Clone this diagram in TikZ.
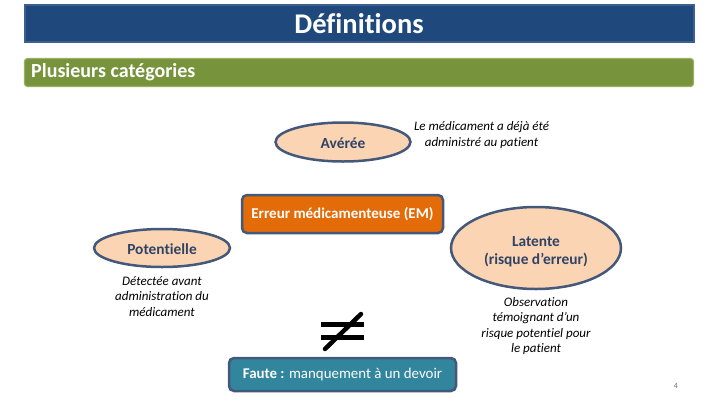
\documentclass[tikz,border=0pt]{standalone}
\usepackage{fontspec}
\usetikzlibrary{shapes.geometric}
\setmainfont[Ligatures=NoCommon]{Carlito}
\definecolor{navy}{HTML}{1F497D}
\definecolor{navyedge}{HTML}{3D5F8C}
\definecolor{leaf}{HTML}{77933C}
\definecolor{leafedge}{HTML}{9BB060}
\definecolor{peach}{HTML}{FBD4B4}
\definecolor{slateline}{HTML}{44587A}
\definecolor{slatetext}{HTML}{2F4464}
\definecolor{orangefill}{HTML}{E36C09}
\definecolor{tealfill}{HTML}{31859C}
\tikzset{
  x=1pt,y=-1pt,
  band/.style={draw=navyedge,line width=2.2pt,fill=navy,minimum width=669pt,minimum height=37pt,inner sep=0pt,text=white},
  greenband/.style={draw=leafedge,line width=1.2pt,fill=leaf,rounded corners=3pt,minimum width=669pt,minimum height=28pt,inner sep=0pt},
  oval/.style={ellipse,draw=slateline,line width=2.5pt,fill=peach,inner sep=0pt,text=slatetext,align=center,font=\bfseries\fontsize{15.4}{18}\selectfont},
  boxed/.style={draw=slateline,line width=2.5pt,rounded corners=5pt,inner sep=0pt,text=white},
  note/.style={align=center,inner sep=0pt,font=\itshape\fontsize{13}{15.5}\selectfont,text=black},
}
\begin{document}
\begin{tikzpicture}
\useasboundingbox (0,0) rectangle (720,405);
\fill[white] (0,0) rectangle (720,405);
\node[band] (title) at (359.5,23.5) {};
\node[inner sep=0pt,text=white,font=\fontsize{28.5}{30}\selectfont\bfseries] (titletext) at (359,24) {Définitions};
\node[greenband] (sub) at (359,72.5) {};
\node[inner sep=0pt,anchor=west,text=white,font=\bfseries\fontsize{20}{22}\selectfont] (subtext) at (31,72.5) {Plusieurs catégories};
\node[oval,minimum width=135pt,minimum height=39pt] (averee) at (343,142) {\rule{0pt}{14pt}Avérée};
\node[note] (noteA) at (481.5,135) {Le médicament a déjà été\\administré au patient};
\node[boxed,fill=orangefill,minimum width=201pt,minimum height=38pt,font=\bfseries\fontsize{15}{18}\selectfont] (em) at (342.5,214) {Erreur médicamenteuse (EM)};
\node[oval,minimum width=136pt,minimum height=38pt] (pot) at (162,248) {\rule{0pt}{14pt}Potentielle};
\node[note] (noteP) at (162,296.5) {Détectée avant\\administration du\\médicament};
\node[oval,minimum width=170pt,minimum height=82pt] (lat) at (536,248) {\rule{0pt}{17pt}Latente\\(risque d’erreur)};
\node[note] (noteL) at (536,326) {Observation\\témoignant d’un\\risque potentiel pour\\le patient};
\node[boxed,fill=tealfill,minimum width=227pt,minimum height=33pt,font=\fontsize{14.9}{18}\selectfont] (faute) at (342.5,374.5) {\textbf{Faute :} manquement à un devoir};
\coordinate (eqAl) at (321,324);
\coordinate (eqAr) at (364,324);
\coordinate (eqBl) at (321,337);
\coordinate (eqBr) at (364,337);
\coordinate (slA) at (325,349);
\coordinate (slB) at (361,314);
\draw[line width=5pt,black] (eqAl) -- (eqAr);
\draw[line width=5pt,black] (eqBl) -- (eqBr);
\draw[line width=4.5pt,black,line cap=round] (slA) -- (slB);
\node[inner sep=0pt,text=black!55,font=\fontsize{8}{10}\selectfont] (num) at (676,386) {4};
\end{tikzpicture}
\end{document}
